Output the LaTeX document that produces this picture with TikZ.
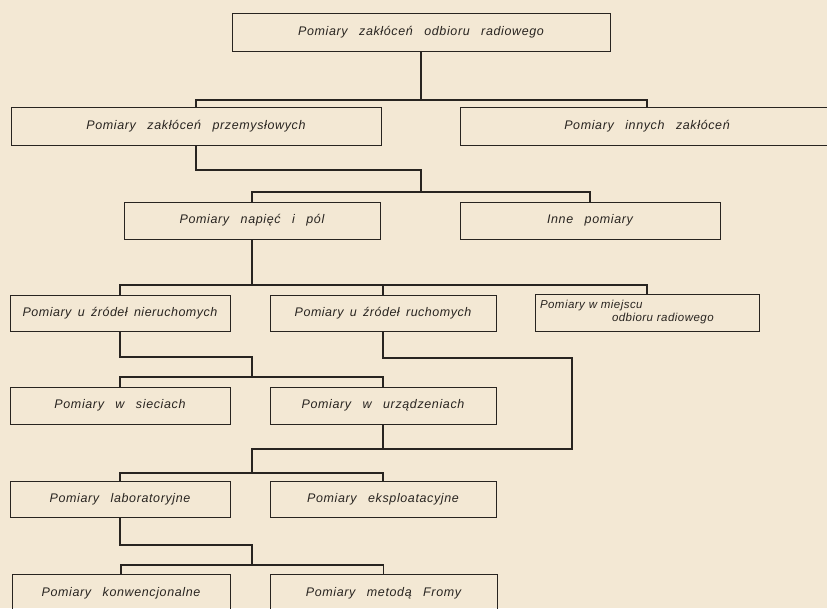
\documentclass[tikz,border=0pt]{standalone}
\usepackage{fontspec}
\setmainfont[LetterSpace=5, WordSpace=2.8]{Liberation Sans}
\newfontfamily\tighthand[LetterSpace=4, WordSpace=1.6]{Liberation Sans}
\usepackage{xcolor}
\usepackage{tikz}
\definecolor{paper}{RGB}{243,232,212}
\definecolor{ink}{RGB}{40,36,32}
\tikzstyle{box} = [rectangle, minimum height=37pt, inner sep=3pt, text centered, draw=ink, line width=0.8pt, text=ink, font=\fontsize{12.5}{14}\selectfont\itshape]
\tikzstyle{tightbox} = [box, font=\fontsize{12.5}{14}\selectfont\tighthand\itshape]
\tikzstyle{link} = [draw=ink, line width=1.8pt]

\begin{document}
\begin{tikzpicture}[x=1pt, y=-1pt]

		\fill[paper] (0,0) rectangle (827,608);
		\useasboundingbox (0,0) rectangle (827,608);
		\clip (0,0) rectangle (827,608);

		\node (top) [box, minimum width=378pt, minimum height=38pt] at (421,32) {Pomiary zakłóceń odbioru radiowego};
		\node (przem) [box, minimum width=370pt, minimum height=38pt] at (196,126) {Pomiary zakłóceń przemysłowych};
		\node (inne) [box, minimum width=374pt, minimum height=38pt] at (647,126) {Pomiary innych zakłóceń};
		\node (napiec) [box, minimum width=256pt] at (252,220.5) {Pomiary napięć i pól};
		\node (innepom) [box, minimum width=260pt] at (590,220.5) {Inne pomiary};
		\node (nieruch) [tightbox, minimum width=220pt, minimum height=36pt] at (120,313) {Pomiary u źródeł nieruchomych};
		\node (ruch) [tightbox, minimum width=226pt, minimum height=36pt] at (383,313) {Pomiary u źródeł ruchomych};
		\node (miejsce) [tightbox, minimum width=224pt, text width=214pt, align=left, inner sep=5pt, font=\fontsize{11.5}{13}\selectfont\tighthand\itshape] at (647,312.5) {Pomiary w miejscu\\\hspace*{72pt}odbioru radiowego};
		\node (sieci) [box, minimum width=220pt] at (120,405.5) {Pomiary w sieciach};
		\node (urzadz) [box, minimum width=226pt] at (383,405.5) {Pomiary w urządzeniach};
		\node (lab) [box, minimum width=220pt, minimum height=36pt] at (120,499) {Pomiary laboratoryjne};
		\node (eksp) [box, minimum width=226pt, minimum height=36pt] at (383,499) {Pomiary eksploatacyjne};
		\node (konw) [box, minimum width=218pt, minimum height=38pt] at (121,593) {Pomiary konwencjonalne};
		\node (fromy) [box, minimum width=227pt, minimum height=38pt] at (383.5,593) {Pomiary metodą Fromy};

		\coordinate (j1) at (421,100);
		\coordinate (k2) at (421,170);
		\coordinate (j2) at (421,192);
		\coordinate (j3) at (252,285);
		\coordinate (k4) at (252,357);
		\coordinate (j4) at (252,377);
		\coordinate (k5) at (572,358);
		\coordinate (j5) at (252,449);
		\coordinate (j6) at (252,473);
		\coordinate (k7) at (252,545);
		\coordinate (j7) at (252,565);

		\draw [link] (top) -- (j1);
		\draw [link] (przem.north) |- (j1) -| (inne.north);
		\draw [link] (przem.south) |- (k2) -- (j2);
		\draw [link] (napiec.north) |- (j2) -| (innepom.north);
		\draw [link] (napiec) -- (j3);
		\draw [link] (nieruch.north) |- (j3) -| (miejsce.north);
		\draw [link] (ruch.north) -- (ruch.north |- j3);
		\draw [link] (nieruch.south) |- (k4) -- (j4);
		\draw [link] (sieci.north) |- (j4) -| (urzadz.north);
		\draw [link] (ruch.south) |- (k5) |- (j5) -- (j6);
		\draw [link] (urzadz.south) -- (urzadz.south |- j5);
		\draw [link] (lab.north) |- (j6) -| (eksp.north);
		\draw [link] (lab.south) |- (k7) -- (j7);
		\draw [link] (konw.north) |- (j7) -| (fromy.north);

	\end{tikzpicture}
\end{document}
